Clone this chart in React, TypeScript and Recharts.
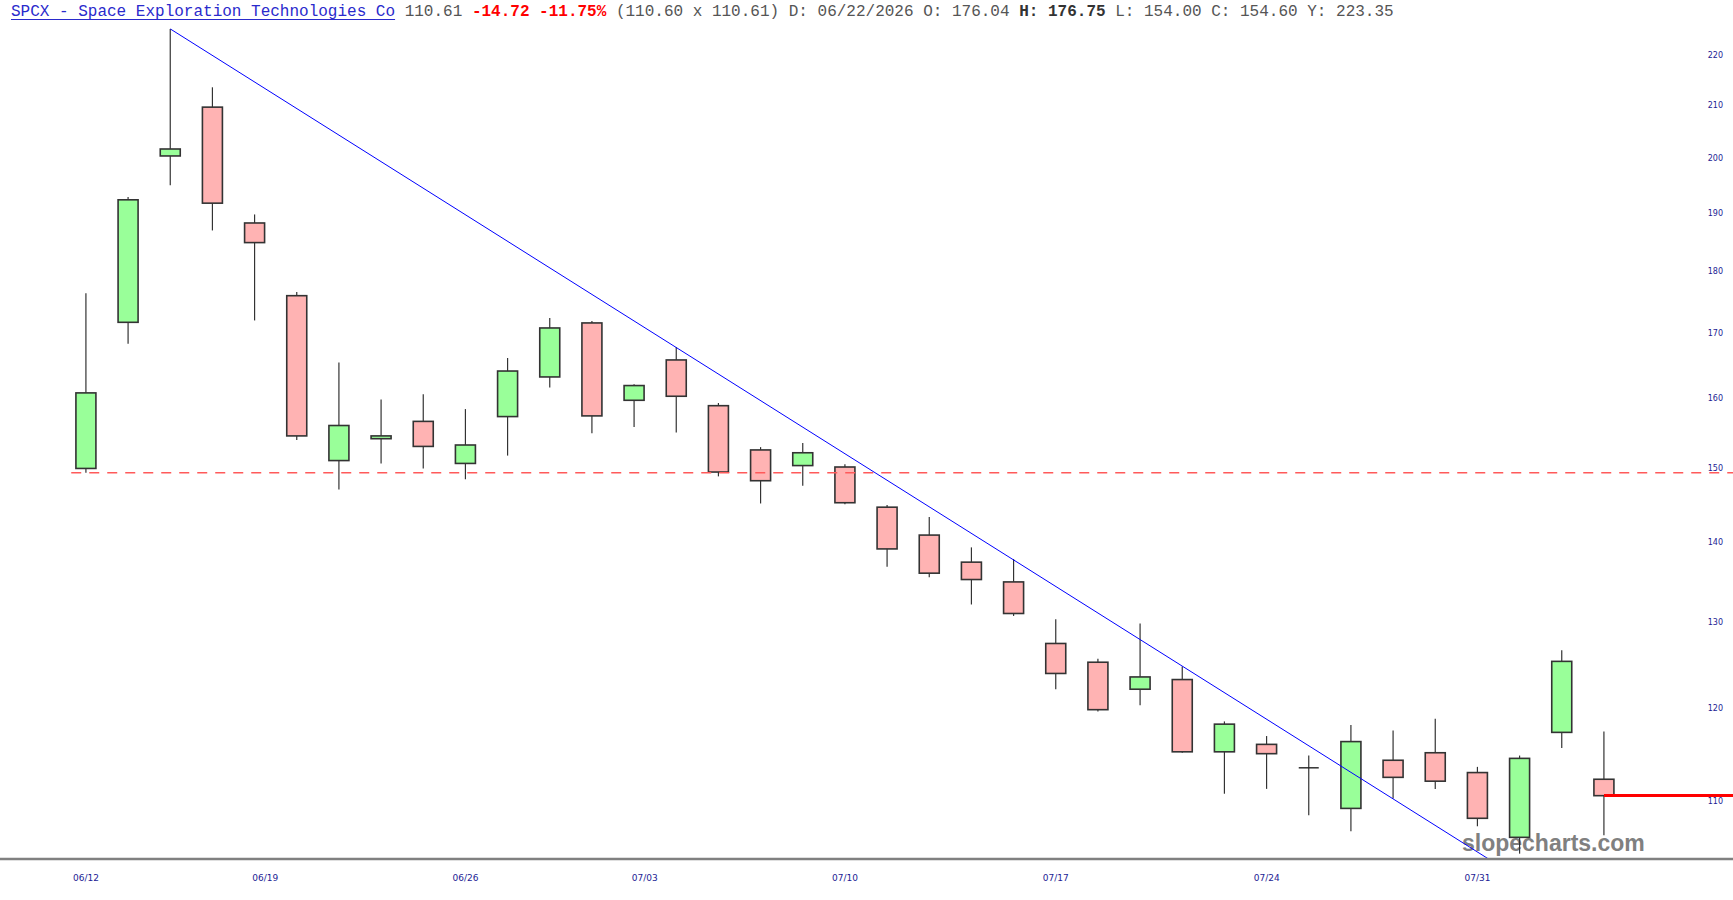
import React from 'react';
import { ComposedChart, Bar, XAxis, YAxis, ReferenceLine } from 'recharts';

// ---- data ----
const tradingDates = [
  '2026-06-12', '2026-06-15', '2026-06-16', '2026-06-17', '2026-06-18',
  '2026-06-22', '2026-06-23', '2026-06-24', '2026-06-25', '2026-06-26',
  '2026-06-29', '2026-06-30', '2026-07-01', '2026-07-02', '2026-07-06',
  '2026-07-07', '2026-07-08', '2026-07-09', '2026-07-10', '2026-07-13',
  '2026-07-14', '2026-07-15', '2026-07-16', '2026-07-17', '2026-07-20',
  '2026-07-21', '2026-07-22', '2026-07-23', '2026-07-24', '2026-07-27',
  '2026-07-28', '2026-07-29', '2026-07-30', '2026-07-31', '2026-08-03',
  '2026-08-04', '2026-08-05',
];
const opens = [
  149.9, 171.7, 200.4, 209.7, 188.3, 176.0, 151.0, 154.1, 156.6, 150.6,
  157.3, 163.2, 171.6, 159.7, 165.8, 158.9, 152.5, 150.3, 150.1, 144.6,
  140.9, 137.4, 134.9, 127.4, 125.2, 122.1, 123.2, 115.2, 116.0, 113.5,
  109.3, 114.3, 115.1, 113.0, 106.4, 117.3, 112.3,
];
const highs = [
  176.4, 192.9, 225.5, 213.6, 189.8, 176.6, 165.4, 159.8, 160.6, 158.4,
  166.1, 172.4, 171.9, 162.1, 167.8, 159.3, 152.9, 153.5, 150.5, 144.9,
  143.3, 139.3, 137.8, 130.3, 125.6, 129.8, 124.7, 118.5, 116.9, 114.8,
  118.1, 117.5, 118.8, 113.6, 114.8, 126.6, 117.4,
];
const lows = [
  149.3, 168.3, 195.0, 187.0, 172.0, 153.9, 147.0, 150.6, 149.9, 148.4,
  151.7, 161.6, 154.9, 155.8, 155.0, 148.8, 145.1, 147.5, 145.0, 136.8,
  135.5, 132.1, 130.7, 122.1, 119.6, 120.3, 115.1, 110.8, 111.3, 108.6,
  107.0, 110.3, 111.3, 107.5, 104.8, 115.6, 106.6,
];
const closes = [
  160.8, 192.4, 201.7, 191.8, 184.9, 154.5, 156.0, 154.5, 153.0, 153.2,
  164.1, 170.8, 157.4, 161.9, 160.3, 149.4, 148.2, 152.1, 145.2, 139.1,
  136.0, 135.2, 131.0, 123.9, 119.8, 123.5, 115.2, 118.2, 115.0, 113.5,
  116.3, 112.5, 112.1, 108.3, 114.5, 125.3, 110.6,
];
const tickDates = [
  '2026-06-12', '2026-06-19', '2026-06-26', '2026-07-03',
  '2026-07-10', '2026-07-17', '2026-07-24', '2026-07-31',
];
const yTicks = [110, 120, 130, 140, 150, 160, 170, 180, 190, 200, 210, 220];

const supportLevel = 149.3;
const supportFromIndex = -0.35;
const lastPrice = 110.61;
const trendFrom = { index: 2, price: 225.5 };
const trendTo = { index: 34, price: 102.4 };

const header = {
  name: 'SPCX - Space Exploration Technologies Co',
  last: '110.61',
  change: '-14.72 -11.75%',
  mid: '(110.60 x 110.61) D: 06/22/2026 O: 176.04',
  high: 'H: 176.75',
  rest: 'L: 154.00 C: 154.60 Y: 223.35',
};

// ---- layout / style ----
const W = 1733;
const H = 900;
const Y_DOMAIN: [number, number] = [104.28, 225.7];
const GREEN = '#99ff99';
const RED = '#ffb3b3';
const NAVY = '#1c1c94';

const data = tradingDates.map((d, i) => ({
  i,
  date: d,
  open: opens[i],
  high: highs[i],
  low: lows[i],
  close: closes[i],
}));

const toTime = (s: string) => new Date(s + 'T00:00:00Z').getTime();
const tradeTimes = tradingDates.map(toTime);
// position of a calendar date on the trading-index axis
const positionOf = (s: string) => {
  const t = toTime(s);
  for (let j = 0; j < tradeTimes.length - 1; j++) {
    if (t >= tradeTimes[j] && t < tradeTimes[j + 1]) {
      return j + (t - tradeTimes[j]) / (tradeTimes[j + 1] - tradeTimes[j]);
    }
  }
  return tradeTimes.length - 1;
};
const tickPositions = tickDates.map(positionOf);
const tickLabelAt = (v: number) => {
  const k = tickPositions.findIndex((p) => Math.abs(p - v) < 1e-6);
  if (k < 0) return '';
  const s = tickDates[k];
  return s.slice(5, 7) + '/' + s.slice(8, 10);
};

const Candle = (props: any) => {
  const { x, y, width, height, payload } = props;
  if (x == null || y == null || !payload) return null;
  const { open, close, high, low } = payload;
  const lnH = Math.log(high);
  const lnL = Math.log(low);
  const toY = (v: number) =>
    lnH === lnL ? y : y + ((lnH - Math.log(v)) / (lnH - lnL)) * height;
  const cx = x + width / 2;
  const yO = toY(open);
  const yC = toY(close);
  const top = Math.min(yO, yC);
  const bot = Math.max(yO, yC);
  const up = close >= open;
  return (
    <g>
      <line x1={cx} x2={cx} y1={y} y2={y + height} stroke="#333" strokeWidth={1.2} />
      {bot - top < 0.8 ? (
        <line x1={x} x2={x + width} y1={top} y2={top} stroke="#222" strokeWidth={1.4} />
      ) : (
        <rect
          x={x}
          y={top}
          width={width}
          height={bot - top}
          fill={up ? GREEN : RED}
          stroke="#333"
          strokeWidth={1.6}
        />
      )}
    </g>
  );
};

export default function App() {
  return (
    <div style={{ position: 'absolute', left: 0, top: 0, width: W, height: H, background: '#fff' }}>
      <div
        style={{
          position: 'absolute',
          left: 11,
          top: 3,
          font: '16px "Liberation Mono", monospace',
          lineHeight: '18px',
          whiteSpace: 'pre',
          color: '#555',
        }}
      >
        <span style={{ color: '#2a2acc', textDecoration: 'underline', textUnderlineOffset: 3 }}>
          {header.name}
        </span>
        {' ' + header.last + ' '}
        <span style={{ color: '#ff0000', fontWeight: 'bold' }}>{header.change}</span>
        {' ' + header.mid + ' '}
        <span style={{ color: '#333', fontWeight: 'bold' }}>{header.high}</span>
        {' ' + header.rest}
      </div>
      <svg style={{ position: 'absolute', left: 0, top: 0 }} width={W} height={H}>
        <text
          x={1462}
          y={851}
          fontFamily='"Liberation Sans", Arial, sans-serif'
          fontWeight="bold"
          fontSize={23}
          fill="#808080"
        >
          slopecharts.com
        </text>
      </svg>
      <div style={{ position: 'absolute', left: 0, top: 0 }}>
        <ComposedChart
          width={W}
          height={H}
          data={data}
          margin={{ top: 28, right: 0, bottom: 0, left: 0 }}
        >
          <XAxis
            type="number"
            dataKey="i"
            domain={[0, tradingDates.length - 1]}
            padding={{ left: 86, right: 129 }}
            ticks={tickPositions}
            tickFormatter={tickLabelAt}
            interval={0}
            height={41}
            tickSize={0}
            tickMargin={16}
            tickLine={false}
            axisLine={{ stroke: '#808080', strokeWidth: 2.5 }}
            tick={{ fill: NAVY, fontSize: 9, fontFamily: '"DejaVu Sans", sans-serif' }}
          />
          <YAxis
            orientation="right"
            mirror
            scale="log"
            domain={Y_DOMAIN}
            ticks={yTicks}
            interval={0}
            axisLine={false}
            tickLine={false}
            tickSize={0}
            tickMargin={10}
            width={40}
            tick={{ fill: NAVY, fontSize: 8, fontFamily: '"DejaVu Sans", sans-serif' }}
          />
          <Bar
            dataKey={(d: any) => [d.low, d.high]}
            barSize={20}
            shape={Candle}
            isAnimationActive={false}
          />
          <ReferenceLine
            segment={[
              { x: supportFromIndex, y: supportLevel },
              { x: tradingDates.length + 3, y: supportLevel },
            ]}
            stroke="#ff5a5a"
            strokeWidth={1.5}
            strokeDasharray="10 8"
            ifOverflow="hidden"
          />
          <ReferenceLine
            segment={[
              { x: trendFrom.index, y: trendFrom.price },
              { x: trendTo.index, y: trendTo.price },
            ]}
            stroke="#0000ff"
            strokeWidth={1}
            ifOverflow="hidden"
          />
          <ReferenceLine
            segment={[
              { x: tradingDates.length - 1, y: lastPrice },
              { x: tradingDates.length + 3, y: lastPrice },
            ]}
            stroke="#ff0000"
            strokeWidth={3}
            ifOverflow="hidden"
          />
        </ComposedChart>
      </div>
    </div>
  );
}
